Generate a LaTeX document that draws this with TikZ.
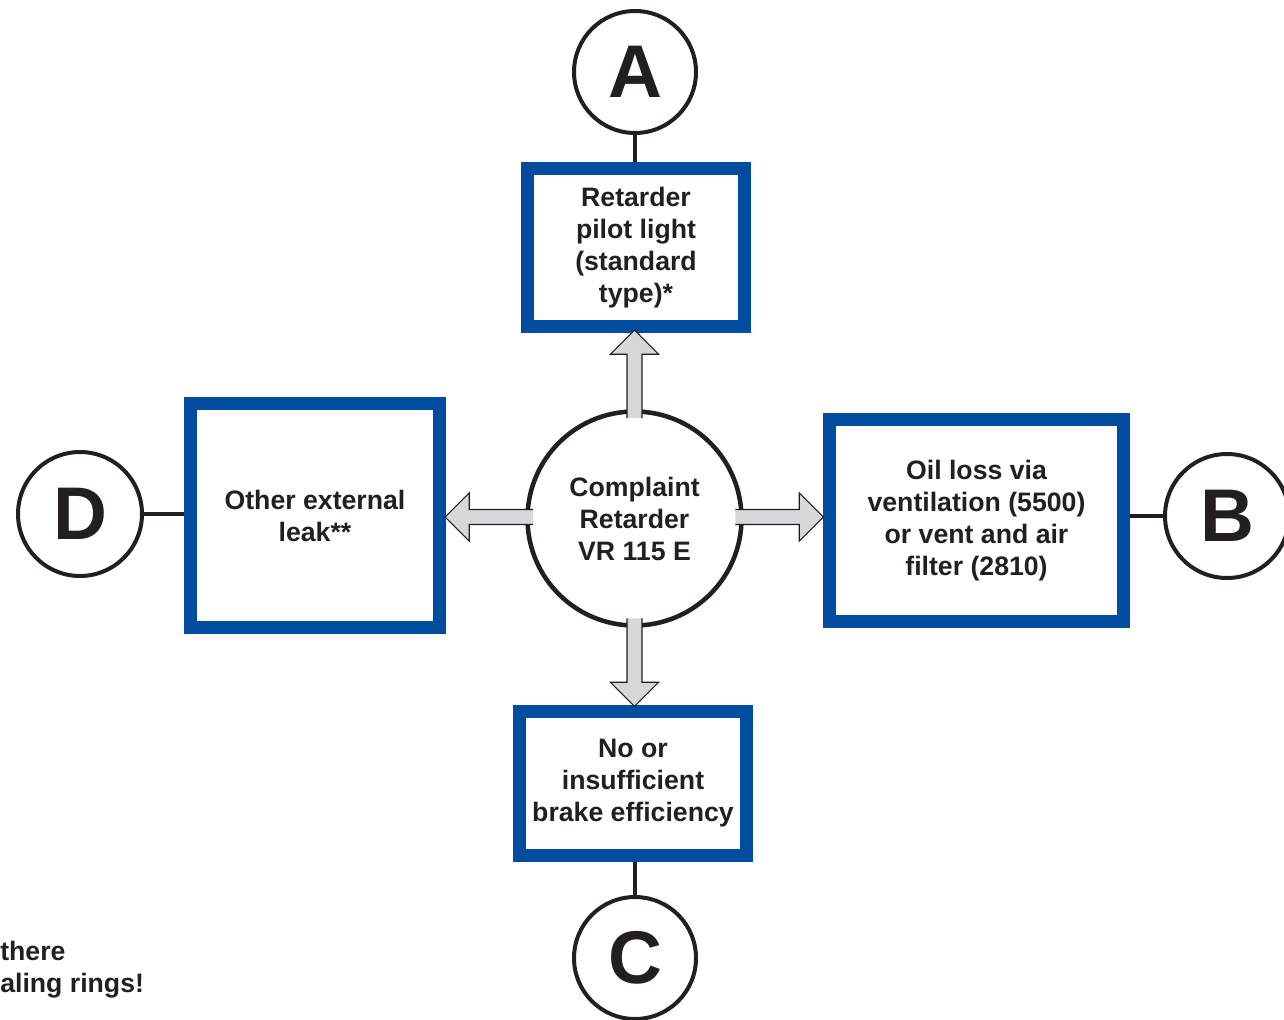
\documentclass[tikz,border=0pt]{standalone}
\usepackage{fontspec}
\setmainfont{Liberation Sans}
\usetikzlibrary{calc,backgrounds}
\definecolor{boxblue}{RGB}{0,77,160}
\definecolor{ink}{RGB}{35,31,32}
\definecolor{arrowfill}{RGB}{214,215,219}
\begin{document}
\begin{tikzpicture}[x=0.75pt,y=-0.75pt,
  txtfont/.style={font=\bfseries\fontsize{20}{24}\selectfont, text=ink},
  txt/.style={txtfont, align=center},
  bluebox/.style={rectangle, draw=boxblue, line width=9.75pt, fill=white, inner sep=0pt, txt},
  letter/.style={circle, draw=ink, line width=3pt, fill=white, inner sep=0pt,
    font=\bfseries\fontsize{56}{56}\selectfont, text=ink},
  hub/.style={circle, draw=ink, line width=3.4pt, fill=white, inner sep=0pt, txt},
  link/.style={draw=ink, line width=3pt},
  fatarrow/.pic={
    \fill[arrowfill] (0,7.5) -- (64,7.5) -- (64,24) -- (88,0) -- (64,-24) -- (64,-7.5) -- (0,-7.5) -- cycle;
    \draw[ink, line width=0.8pt, line join=miter] (0,7.5) -- (64,7.5) -- (64,24) -- (88,0) -- (64,-24) -- (64,-7.5) -- (0,-7.5);
  }]
\useasboundingbox (0,0) rectangle (1284,1020);

% boxes
\node[bluebox, minimum width=162.75pt, minimum height=118.5pt] (bA) at (636,247.5)
  {Retarder\\pilot light\\(standard\\type)*};
\node[bluebox, minimum width=220.5pt, minimum height=151.5pt] (bB) at (976.5,520.5)
  {Oil loss via\\ventilation (5500)\\or vent and air\\filter (2810)};
\node[bluebox, minimum width=186.75pt, minimum height=168pt] (bD) at (315,515.5)
  {Other external\\leak**};
\node[bluebox, minimum width=170.25pt, minimum height=108pt] (bC) at (633,783.5)
  {No or\\insufficient\\brake efficiency};

% letter circles
\node[letter, minimum size=91.5pt] (cA) at (635,72) {A};
\node[letter, minimum size=93pt] (cB) at (1227,516) {B};
\node[letter, minimum size=91.5pt] (cC) at (635,958) {C};
\node[letter, minimum size=93pt] (cD) at (80,514) {D};

% hub
\node[hub, minimum size=160.5pt] (cc) at (634.5,518.5) {Complaint\\Retarder\\VR 115 E};

% connectors
\begin{pgfonlayer}{background}
  \draw[link] (cA.south) -- (cA.south |- bA.north);
  \draw[link] (cB.west) -- (cB.west -| bB.east);
  \draw[link] (cC.north) -- (cC.north |- bC.south);
  \draw[link] (cD.east) -- (cD.east -| bD.west);
\end{pgfonlayer}

% fat arrows from hub to boxes
\pic[rotate=90] at ($(cc.north)+(0,9)$) {fatarrow};
\pic[rotate=0] at ($(cc.east)+(-8.5,-1.5)$) {fatarrow};
\pic[rotate=180] at ($(cc.west)+(8,-1.5)$) {fatarrow};
\pic[rotate=270] at ($(cc.south)+(0,-9.5)$) {fatarrow};

% fragments at the left edge
\node[txtfont, anchor=base west, inner sep=0pt] (frag1) at (0,960) {there};
\node[txtfont, anchor=base west, inner sep=0pt] (frag2) at (0,992) {aling rings!};
\end{tikzpicture}
\end{document}
